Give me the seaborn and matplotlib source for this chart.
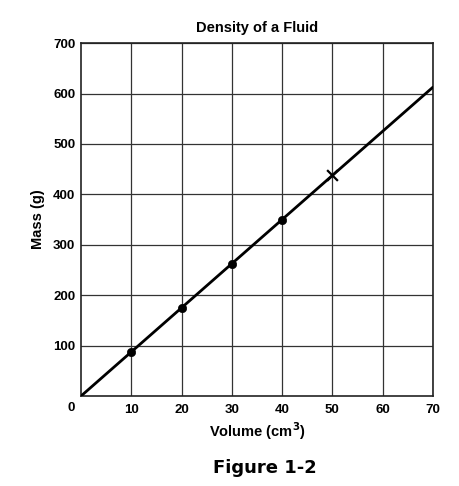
import numpy as np
import pandas as pd
import matplotlib
matplotlib.use("Agg")
import matplotlib.pyplot as plt
import seaborn as sns

# measured points (volume in cm3, mass in g)
volume = [10, 20, 30, 40]
mass = [87.5, 175, 262.5, 350]
# the point marked with an x
x_volume = [50]
x_mass = [437.5]
# best-fit line end points
line_volume = [0, 70]
line_mass = [0, 612.5]

x_ticks = [10, 20, 30, 40, 50, 60, 70]
y_ticks = [100, 200, 300, 400, 500, 600, 700]

sns.set_style("white")
plt.rcParams['font.family'] = ['Liberation Sans', 'DejaVu Sans']
plt.rcParams.update({'text.color': 'black', 'axes.labelcolor': 'black',
                     'xtick.color': 'black', 'ytick.color': 'black'})

fig = plt.figure(figsize=(4.6, 4.86), dpi=100)
ax = fig.add_axes([0.176, 0.185, 0.765, 0.7263])

sns.lineplot(x=line_volume, y=line_mass, ax=ax, color='black', linewidth=2, zorder=3)
sns.scatterplot(x=volume, y=mass, ax=ax, color='black', s=36, edgecolor='black', zorder=4)
sns.scatterplot(x=x_volume, y=x_mass, ax=ax, color='black', marker='x', s=60,
                linewidth=1.6, zorder=4)

ax.set_xlim(0, 70)
ax.set_ylim(0, 700)
ax.set_xticks(x_ticks)
ax.set_yticks(y_ticks)
ax.grid(True, color='#333333', linewidth=0.9)
ax.tick_params(length=0, labelsize=9.5)
ax.tick_params(axis='y', pad=4)
ax.tick_params(axis='x', pad=6)
for lab in ax.get_xticklabels() + ax.get_yticklabels():
    lab.set_fontweight('bold')
for s in ax.spines.values():
    s.set_color('#222222')
    s.set_linewidth(1.2)

ax.text(-1.3, -12, '0', ha='right', va='top', fontsize=9.5, fontweight='bold')

ax.set_title('Density of a Fluid', fontsize=10.5, fontweight='bold', pad=8)
ax.set_xlabel('Volume (cm$^{\\mathbf{3}}$)', fontsize=10.5, fontweight='bold', labelpad=3)
ax.set_ylabel('Mass (g)', fontsize=10.5, fontweight='bold', labelpad=6)

fig.text(0.576, 0.037, 'Figure 1-2', ha='center', va='center', fontsize=13,
         fontweight='bold', family=['DejaVu Sans'])

fig.savefig('out.png', dpi=100, facecolor='white')
